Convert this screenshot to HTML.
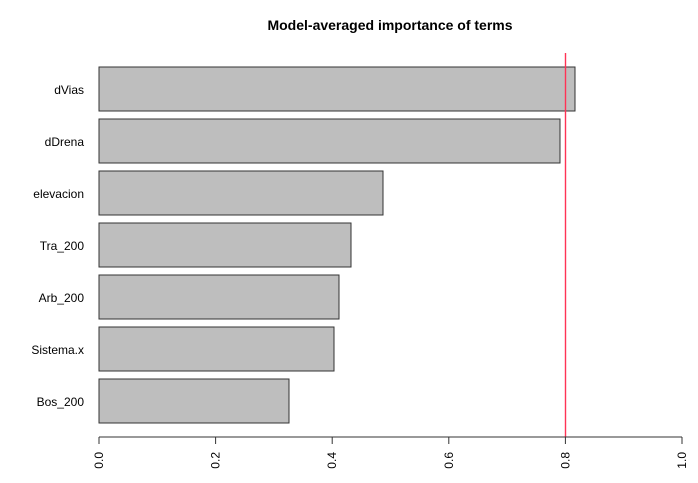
<!DOCTYPE html>
<html><head><style>body{margin:0;background:#fff}</style></head><body>
<svg width="698" height="478" xmlns="http://www.w3.org/2000/svg" font-family="Liberation Sans, sans-serif">
<text x="390" y="30" text-anchor="middle" font-size="14" font-weight="bold">Model-averaged importance of terms</text>
<g fill="#bebebe" stroke="#333" stroke-width="1">
<rect x="99" y="67" width="476" height="44"/>
<rect x="99" y="119" width="461" height="44"/>
<rect x="99" y="171" width="284" height="44"/>
<rect x="99" y="223" width="252" height="44"/>
<rect x="99" y="275" width="240" height="44"/>
<rect x="99" y="327" width="235" height="44"/>
<rect x="99" y="379" width="190" height="44"/>
</g>
<g font-size="12" text-anchor="end" fill="#000">
<text x="84" y="94">dVias</text>
<text x="84" y="146">dDrena</text>
<text x="84" y="198">elevacion</text>
<text x="84" y="250">Tra_200</text>
<text x="84" y="302">Arb_200</text>
<text x="84" y="354">Sistema.x</text>
<text x="84" y="406">Bos_200</text>
</g>
<line x1="565.5" y1="53" x2="565.5" y2="437" stroke="#ff3355" stroke-width="1.4"/>
<g stroke="#333" stroke-width="1">
<line x1="99" y1="437" x2="682" y2="437"/>
<line x1="99" y1="437" x2="99" y2="444"/>
<line x1="215.6" y1="437" x2="215.6" y2="444"/>
<line x1="332.2" y1="437" x2="332.2" y2="444"/>
<line x1="448.8" y1="437" x2="448.8" y2="444"/>
<line x1="565.4" y1="437" x2="565.4" y2="444"/>
<line x1="682" y1="437" x2="682" y2="444"/>
</g>
<g font-size="12" text-anchor="end">
<text transform="translate(103,452) rotate(-90)">0.0</text>
<text transform="translate(219.6,452) rotate(-90)">0.2</text>
<text transform="translate(336.2,452) rotate(-90)">0.4</text>
<text transform="translate(452.8,452) rotate(-90)">0.6</text>
<text transform="translate(569.4,452) rotate(-90)">0.8</text>
<text transform="translate(686,452) rotate(-90)">1.0</text>
</g>
</svg>
</body></html>
